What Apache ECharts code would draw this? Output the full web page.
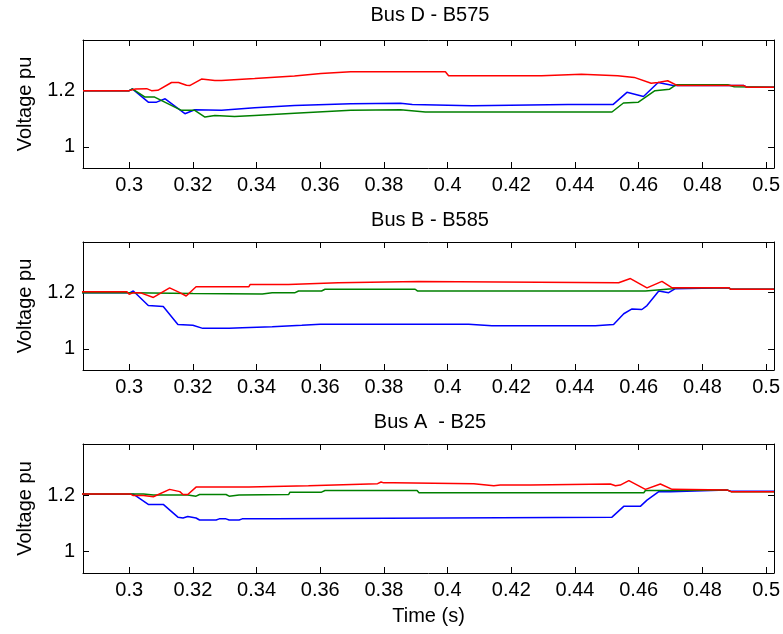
<!DOCTYPE html>
<html><head><meta charset="utf-8">
<script src="https://cdn.jsdelivr.net/npm/echarts@6/dist/echarts.min.js"></script>
<style>html,body{margin:0;padding:0;background:#fff}#c{width:783px;height:634px}</style>
</head><body><div id="c"></div>
<script>
const titles = ['Bus D - B575', 'Bus B - B585', 'Bus A  - B25'];
const xTicks = [0.3, 0.32, 0.34, 0.36, 0.38, 0.4, 0.42, 0.44, 0.46, 0.48, 0.5];
const yTicks = [1, 1.2];
const xLabel = 'Time (s)';
const yLabel = 'Voltage pu';

const busD_blue = [[0.2855,1.2],[0.3,1.2],[0.301,1.206],[0.306,1.159],[0.3086,1.159],[0.3113,1.171],[0.3175,1.118],[0.3206,1.132],[0.329,1.13],[0.3394,1.139],[0.3519,1.147],[0.3696,1.153],[0.3852,1.155],[0.3889,1.151],[0.4076,1.146],[0.4378,1.151],[0.452,1.151],[0.4563,1.194],[0.4615,1.179],[0.4661,1.229],[0.4708,1.218],[0.493,1.218],[0.494,1.212],[0.5025,1.212]];
const busD_green = [[0.2855,1.2],[0.3,1.2],[0.301,1.206],[0.305,1.177],[0.308,1.177],[0.3164,1.13],[0.3206,1.13],[0.3238,1.106],[0.3269,1.112],[0.3331,1.108],[0.3394,1.112],[0.3519,1.12],[0.3696,1.13],[0.3852,1.132],[0.393,1.124],[0.4516,1.124],[0.4552,1.156],[0.4599,1.159],[0.4651,1.2],[0.4697,1.205],[0.4718,1.221],[0.488,1.221],[0.49,1.214],[0.5025,1.212]];
const busD_red = [[0.2855,1.2],[0.3,1.2],[0.302,1.206],[0.3055,1.207],[0.307,1.2],[0.309,1.201],[0.3133,1.229],[0.3155,1.229],[0.318,1.219],[0.319,1.218],[0.3227,1.241],[0.3269,1.236],[0.329,1.236],[0.3394,1.243],[0.3519,1.252],[0.3602,1.261],[0.3696,1.267],[0.3993,1.267],[0.4003,1.253],[0.4295,1.253],[0.43,1.258],[0.442,1.258],[0.4425,1.253],[0.4534,1.253],[0.454,1.247],[0.4586,1.247],[0.4639,1.226],[0.466,1.229],[0.4691,1.235],[0.4722,1.218],[0.493,1.218],[0.494,1.212],[0.5025,1.212]];

const busB_blue = [[0.2848,1.2],[0.3003,1.2],[0.3013,1.206],[0.306,1.154],[0.3107,1.151],[0.3153,1.087],[0.32,1.084],[0.3231,1.073],[0.3314,1.073],[0.3355,1.075],[0.3449,1.079],[0.3542,1.084],[0.36,1.088],[0.4066,1.088],[0.407,1.082],[0.4139,1.082],[0.4145,1.087],[0.415,1.082],[0.4464,1.082],[0.447,1.087],[0.4521,1.087],[0.4553,1.125],[0.4579,1.142],[0.461,1.14],[0.4626,1.154],[0.4663,1.206],[0.4694,1.2],[0.4715,1.214],[0.4883,1.217],[0.489,1.212],[0.5025,1.212]];
const busB_green = [[0.2848,1.2],[0.3003,1.2],[0.32,1.197],[0.3418,1.195],[0.3449,1.2],[0.3521,1.2],[0.3532,1.206],[0.3604,1.206],[0.3615,1.212],[0.3898,1.212],[0.3905,1.206],[0.4621,1.206],[0.4626,1.212],[0.4705,1.214],[0.4715,1.217],[0.4883,1.217],[0.489,1.212],[0.5025,1.212]];
const busB_red = [[0.2848,1.203],[0.2993,1.203],[0.3,1.194],[0.3013,1.2],[0.3034,1.2],[0.3076,1.183],[0.3127,1.217],[0.3159,1.2],[0.3179,1.188],[0.321,1.221],[0.3376,1.221],[0.338,1.229],[0.35,1.229],[0.3505,1.235],[0.3656,1.235],[0.366,1.24],[0.3909,1.24],[0.3915,1.235],[0.4537,1.235],[0.4574,1.25],[0.4626,1.217],[0.4673,1.24],[0.4705,1.217],[0.4883,1.217],[0.489,1.212],[0.5025,1.212]];

const busA_blue = [[0.2848,1.203],[0.3013,1.203],[0.306,1.167],[0.3107,1.167],[0.3153,1.122],[0.3169,1.119],[0.3184,1.124],[0.321,1.119],[0.3221,1.112],[0.3273,1.112],[0.3283,1.116],[0.3304,1.116],[0.3314,1.112],[0.3345,1.112],[0.3355,1.116],[0.3459,1.116],[0.3464,1.122],[0.4516,1.122],[0.4553,1.16],[0.4605,1.16],[0.4626,1.182],[0.4663,1.212],[0.47,1.212],[0.4705,1.218],[0.4877,1.218],[0.489,1.213],[0.5025,1.213]];
const busA_green = [[0.2848,1.204],[0.3045,1.204],[0.3076,1.2],[0.3184,1.2],[0.321,1.196],[0.3221,1.202],[0.3304,1.202],[0.3314,1.196],[0.3345,1.2],[0.3501,1.202],[0.3505,1.21],[0.3604,1.21],[0.3615,1.216],[0.3904,1.216],[0.391,1.208],[0.4616,1.208],[0.4621,1.216],[0.47,1.216],[0.4705,1.218],[0.4877,1.218],[0.489,1.212],[0.5025,1.212]];
const busA_red = [[0.2848,1.204],[0.3003,1.204],[0.3013,1.198],[0.3045,1.198],[0.3076,1.194],[0.3127,1.22],[0.3159,1.212],[0.3169,1.202],[0.3184,1.202],[0.321,1.228],[0.3376,1.228],[0.338,1.233],[0.3563,1.233],[0.3567,1.24],[0.378,1.24],[0.3791,1.246],[0.3799,1.243],[0.383,1.243],[0.3835,1.24],[0.4082,1.24],[0.4086,1.233],[0.4145,1.233],[0.4165,1.235],[0.426,1.235],[0.4265,1.239],[0.4511,1.239],[0.4527,1.233],[0.4542,1.235],[0.4569,1.251],[0.4621,1.22],[0.4668,1.239],[0.4705,1.22],[0.4877,1.218],[0.489,1.212],[0.5025,1.212]];

const panels = [
  [busD_blue, busD_green, busD_red],
  [busB_blue, busB_green, busB_red],
  [busA_blue, busA_green, busA_red]
];
const colors = ['#0000ff', '#008000', '#ff0000'];
const FONT = 'Liberation Sans, Arial, sans-serif';
const gridTops = [40, 242, 444];
const gridH = [128, 128, 129];
const titleTops = [5, 210, 412];

const grid = [], xAxis = [], yAxis = [], series = [], title = [];
const fmt = v => String(v);
for (let p = 0; p < 3; p++) {
  grid.push({left: 83, right: 5, top: gridTops[p], height: gridH[p]});
  title.push({text: titles[p], left: 430, top: titleTops[p], textAlign: 'center', padding: 0,
    textStyle: {fontFamily: FONT, fontSize: 20, fontWeight: 'normal', color: '#000'}});
  const xBase = {type: 'value', gridIndex: p, min: 0.2855, max: 0.5025,
    axisLine: {show: true, onZero: false, lineStyle: {color: '#000', width: 1}},
    axisTick: {show: true, inside: true, length: 6, customValues: xTicks, lineStyle: {color: '#000'}},
    splitLine: {show: false}};
  xAxis.push(Object.assign({}, xBase, {position: 'bottom',
    axisLabel: {show: true, customValues: xTicks, formatter: fmt, margin: 7, fontFamily: FONT, fontSize: 20, color: '#000'},
    name: p === 2 ? xLabel : '', nameLocation: 'middle', nameGap: 33,
    nameTextStyle: {fontFamily: FONT, fontSize: 20, color: '#000'}}));
  xAxis.push(Object.assign({}, xBase, {position: 'top', axisLabel: {show: false}}));
  const yBase = {type: 'value', gridIndex: p, min: 0.925, max: 1.38,
    axisLine: {show: true, onZero: false, lineStyle: {color: '#000', width: 1}},
    axisTick: {show: true, inside: true, length: 6, customValues: yTicks, lineStyle: {color: '#000'}},
    splitLine: {show: false}};
  yAxis.push(Object.assign({}, yBase, {position: 'left',
    axisLabel: {show: true, customValues: yTicks, formatter: fmt, margin: 8, fontFamily: FONT, fontSize: 20, color: '#000'},
    name: yLabel, nameLocation: 'middle', nameGap: 48,
    nameTextStyle: {fontFamily: FONT, fontSize: 20, color: '#000'}}));
  yAxis.push(Object.assign({}, yBase, {position: 'right', axisLabel: {show: false}}));
  for (let s = 0; s < 3; s++) {
    series.push({type: 'line', xAxisIndex: p * 2, yAxisIndex: p * 2, data: panels[p][s],
      showSymbol: false, symbol: 'none', animation: false, clip: true,
      lineStyle: {color: colors[s], width: 1.5}, z: 2 + s});
  }
}
const chart = echarts.init(document.getElementById('c'), null, {renderer: 'canvas'});
chart.setOption({animation: false, backgroundColor: '#fff', title, grid, xAxis, yAxis, series});
</script></body></html>
